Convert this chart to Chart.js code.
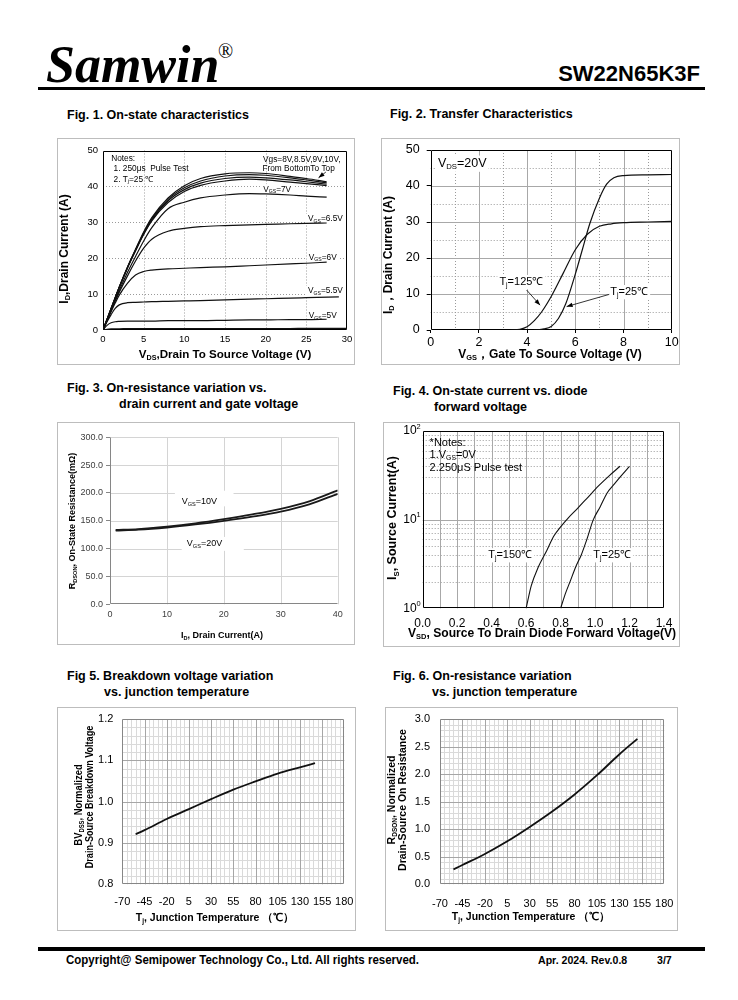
<!DOCTYPE html>
<html>
<head>
<meta charset="utf-8">
<script src="https://cdn.jsdelivr.net/npm/chart.js@4.4.1/dist/chart.umd.min.js"></script>
<style>
  body { margin: 0; background: #fff; }
  #page { position: relative; width: 738px; height: 1000px; overflow: hidden; font-family: "Liberation Sans", Arial, sans-serif; color: #000; }
  .t { position: absolute; white-space: nowrap; line-height: 1; }
  .ft { font-weight: bold; font-size: 12.5px; }
  .foot { font-weight: bold; transform: scaleX(0.92); transform-origin: left center; }
  .frame { position: absolute; border: 1px solid #bdbdbd; box-sizing: border-box; }
  .rule { position: absolute; background: #000; }
  canvas { position: absolute; }
</style>
</head>
<body>
<div id="page">
  <div class="t" style="left:46px;top:35px;font:italic bold 52px 'Liberation Serif',serif;">Samwin</div>
  <div class="t" style="left:218px;top:40px;font:20px 'Liberation Serif',serif;">®</div>
  <div class="t" style="right:38px;top:63px;font-weight:bold;font-size:22px;">SW22N65K3F</div>
  <div class="rule" style="left:38px;top:87px;width:667px;height:3px;"></div>

  <div class="t ft" style="left:67px;top:109px;">Fig. 1. On-state characteristics</div>
  <div class="t ft" style="left:390px;top:108px;">Fig. 2. Transfer Characteristics</div>
  <div class="t ft" style="left:67px;top:382px;">Fig. 3. On-resistance variation vs.</div>
  <div class="t ft" style="left:119px;top:398px;">drain current and gate voltage</div>
  <div class="t ft" style="left:393px;top:385px;">Fig. 4. On-state current vs. diode</div>
  <div class="t ft" style="left:434px;top:401px;">forward voltage</div>
  <div class="t ft" style="left:67px;top:670px;">Fig 5. Breakdown voltage variation</div>
  <div class="t ft" style="left:104px;top:686px;">vs. junction temperature</div>
  <div class="t ft" style="left:393px;top:670px;">Fig. 6. On-resistance variation</div>
  <div class="t ft" style="left:432px;top:686px;">vs. junction temperature</div>

  <div class="rule" style="left:38px;top:947px;width:667px;height:4px;"></div>
  <div class="t foot" style="left:66px;top:954px;font-size:12.5px;">Copyright@ Semipower Technology Co., Ltd. All rights reserved.</div>
  <div class="t foot" style="left:538px;top:955px;font-size:11.5px;">Apr. 2024. Rev.0.8</div>
  <div class="t foot" style="left:657px;top:955px;font-size:11.5px;">3/7</div>
</div>
<script>
// Fig. 1 - on-state characteristics
const fig1Vds = [0, 0.5, 1, 1.5, 2, 3, 4, 5, 6, 8, 10, 12, 15, 18, 20, 23, 25, 27.5];
const fig1VdsLong = [0, 0.5, 1, 1.5, 2, 3, 4, 5, 6, 8, 10, 12, 15, 18, 20, 23, 25, 29];
const fig1VdsFull = [0, 0.5, 1, 1.5, 2, 3, 4, 5, 6, 8, 10, 12, 15, 18, 20, 23, 25, 30];
const fig1Id10V = [0, 3, 6, 9, 12, 17.5, 22.5, 27.3, 31.3, 36.8, 40.2, 42.2, 43.5, 43.8, 43.6, 42.8, 42.2, 41.3];
const fig1Id9V = [0, 3, 6, 9, 12, 17.4, 22.3, 27.0, 31.0, 36.4, 39.6, 41.5, 42.9, 43.3, 43.1, 42.4, 41.8, 41.0];
const fig1Id85V = [0, 3, 6, 9, 11.9, 17.3, 22.2, 26.8, 30.7, 36.0, 39.1, 40.9, 42.2, 42.6, 42.4, 41.8, 41.3, 40.6];
const fig1Id8V = [0, 3, 6, 8.9, 11.8, 17.2, 22.0, 26.6, 30.4, 35.5, 38.6, 40.3, 41.5, 42.0, 41.8, 41.2, 40.8, 40.2];
const fig1Id7V = [0, 2.8, 5.6, 8.3, 11, 16, 20.5, 24.8, 28.5, 33.8, 35.6, 36.8, 37.6, 38.0, 37.9, 37.6, 37.3, 37.0];
const fig1Id65V = [0, 2.7, 5.4, 8, 10.5, 15, 19.2, 22.8, 25.3, 27.5, 28.3, 28.8, 29.1, 29.3, 29.4, 29.6, 29.7, 29.8];
const fig1Id6V = [0, 2.6, 5.1, 7.5, 9.7, 13.0, 15.3, 16.3, 16.7, 17.0, 17.2, 17.4, 17.6, 17.9, 18.1, 18.4, 18.6, 18.9];
const fig1Id55V = [0, 2.3, 4.3, 6.0, 7.0, 7.6, 7.7, 7.8, 7.9, 8.0, 8.1, 8.2, 8.4, 8.6, 8.7, 8.9, 9.0, 9.2];
const fig1Id5V = [0, 1.3, 2.0, 2.3, 2.4, 2.5, 2.5, 2.5, 2.5, 2.6, 2.6, 2.6, 2.7, 2.8, 2.8, 2.9, 2.9, 3.0];
const fig1Id45V = [0, 0.2, 0.3, 0.35, 0.35, 0.4, 0.4, 0.4, 0.4, 0.4, 0.4, 0.4, 0.4, 0.4, 0.4, 0.4, 0.45, 0.45];
const fig1XTicks = [0, 5, 10, 15, 20, 25, 30];
const fig1YTicks = [0, 10, 20, 30, 40, 50];

// Fig. 2 - transfer characteristics
const fig2Vgs125 = [3.3, 3.7, 4.0, 4.3, 4.6, 5.0, 5.5, 6.0, 6.5, 7.0, 7.5, 8.0, 9.0, 10.0];
const fig2Id125 = [0, 0.2, 0.9, 2.6, 5.0, 9.3, 15.8, 22.3, 26.6, 28.8, 29.5, 29.8, 30.0, 30.2];
const fig2Vgs25 = [4.3, 4.7, 5.0, 5.3, 5.6, 6.0, 6.3, 6.6, 7.0, 7.3, 7.6, 8.0, 9.0, 10.0];
const fig2Id25 = [0, 0.3, 1.0, 3.2, 7.2, 15.5, 22.5, 29.5, 36.6, 40.5, 42.3, 42.9, 43.1, 43.2];
const fig2XTicks = [0, 2, 4, 6, 8, 10];
const fig2YTicks = [0, 10, 20, 30, 40, 50];

// Fig. 3 - on-resistance vs drain current
const fig3Id = [1, 5, 10, 15, 20, 25, 30, 35, 40];
const fig3R10V = [133.5, 135, 139.5, 145.5, 153, 161.5, 171.5, 185, 204.5];
const fig3R20V = [132.5, 134, 138, 143.5, 150, 157.5, 166.5, 179.5, 198.5];
const fig3XTicks = [0, 10, 20, 30, 40];
const fig3YTicks = [0, 50, 100, 150, 200, 250, 300];

// Fig. 4 - diode forward voltage
const fig4Vsd150 = [0.60, 0.63, 0.67, 0.72, 0.76, 0.80, 0.845, 0.90, 0.96, 1.02, 1.08, 1.145];
const fig4Is150 = [1.0, 1.8, 2.9, 4.5, 6.5, 8.3, 10.5, 13.5, 18, 24, 31, 40];
const fig4Vsd25 = [0.80, 0.83, 0.855, 0.89, 0.92, 0.95, 0.99, 1.03, 1.07, 1.11, 1.15, 1.20];
const fig4Is25 = [1.0, 1.5, 2.0, 3.0, 4.0, 5.8, 10, 14, 20, 25, 31, 40];
const fig4XTicks = [0, 0.2, 0.4, 0.6, 0.8, 1.0, 1.2, 1.4];
const fig4YTicks = [1, 10, 100];
const fig4YExp = ['0', '1', '2'];

// Fig. 5 / Fig. 6 - temperature dependence
const fig5Tj = [-55, -45, -20, 5, 30, 55, 80, 105, 130, 147];
const fig5Bv = [0.921, 0.931, 0.958, 0.982, 1.006, 1.029, 1.049, 1.068, 1.083, 1.093];
const fig6Tj = [-55, -45, -20, 5, 30, 55, 80, 105, 130, 150];
const fig6Rds = [0.27, 0.35, 0.55, 0.78, 1.04, 1.32, 1.63, 1.98, 2.36, 2.64];
const tempTicks = [-70, -45, -20, 5, 30, 55, 80, 105, 130, 155, 180];
const fig5YTicks = [0.8, 0.9, 1.0, 1.1, 1.2];
const fig6YTicks = [0, 0.5, 1.0, 1.5, 2.0, 2.5, 3.0];

const FONT = '"Liberation Sans", Arial, sans-serif';
Chart.defaults.font.family = FONT;
const page = document.getElementById('page');

// 'V','_GS','=7V' -> runs, _ = subscript, ^ = superscript
const R = (...p) => p.map(s => s[0] === '_' ? [s.slice(1), 1] : s[0] === '^' ? [s.slice(1), 2] : [s, 0]);
const range = (a, b, st) => { const out = []; for (let v = a; v <= b + 1e-9; v += st) out.push(+v.toFixed(4)); return out; };
const without = (arr, skip) => arr.filter(v => !skip.some(s => Math.abs(s - v) < 1e-6));

function drawRuns(ctx, runs, x, y, o) {
  const size = o.size || 10, weight = o.bold ? 'bold ' : '';
  const f = k => `${weight}${k ? size * 0.62 : size}px ${FONT}`;
  let w = 0;
  runs.forEach(([t, k]) => { ctx.font = f(k); w += ctx.measureText(t).width; });
  ctx.save();
  ctx.translate(x, y);
  if (o.rot) ctx.rotate(-Math.PI / 2);
  ctx.scale(o.sx || 1, 1);
  let cx = o.align === 'left' ? 0 : o.align === 'right' ? -w : -w / 2;
  ctx.textBaseline = 'middle';
  ctx.textAlign = 'left';
  if (o.bg) {
    ctx.fillStyle = '#fff';
    ctx.fillRect(cx - 2, -size * 0.62, w + 4, size * 1.3);
  }
  ctx.fillStyle = o.color || '#000';
  runs.forEach(([t, k]) => {
    ctx.font = f(k);
    const dy = k === 1 ? size * 0.28 : k === 2 ? -size * 0.36 : 0;
    ctx.fillText(t, cx, dy);
    cx += ctx.measureText(t).width;
  });
  ctx.restore();
}

const sheetPlugin = {
  id: 'sheet',
  beforeDatasetsDraw(chart, args, o) {
    const { ctx, chartArea: a, scales: { x: X, y: Y } } = chart;
    ctx.save();
    (o.grids || []).forEach(g => {
      ctx.strokeStyle = g.color;
      ctx.lineWidth = g.width || 1;
      ctx.setLineDash(g.dash || []);
      g.values.forEach(v => {
        ctx.beginPath();
        if (g.axis === 'x') {
          const p = Math.round(X.getPixelForValue(v)) + 0.5;
          ctx.moveTo(p, a.top); ctx.lineTo(p, a.bottom);
        } else {
          const p = Math.round(Y.getPixelForValue(v)) + 0.5;
          ctx.moveTo(a.left, p); ctx.lineTo(a.right, p);
        }
        ctx.stroke();
      });
    });
    ctx.setLineDash([]);
    if (o.box) {
      const b = o.box, l = Math.round(a.left) + 0.5, r = Math.round(a.right) - 0.5;
      const t = Math.round(a.top) + 0.5, btm = Math.round(a.bottom) - 0.5;
      ctx.strokeStyle = b.color; ctx.lineWidth = b.width || 1;
      ctx.beginPath();
      if (b.sides.includes('l')) { ctx.moveTo(l, t); ctx.lineTo(l, btm); }
      if (b.sides.includes('b')) { ctx.moveTo(l, btm); ctx.lineTo(r, btm); }
      if (b.sides.includes('r')) { ctx.moveTo(r, t); ctx.lineTo(r, btm); }
      if (b.sides.includes('t')) { ctx.moveTo(l, t); ctx.lineTo(r, t); }
      ctx.stroke();
    }
    (o.rects || []).forEach(q => {
      const x1 = X.getPixelForValue(q[0]), y1 = Y.getPixelForValue(q[1]);
      const x2 = X.getPixelForValue(q[2]), y2 = Y.getPixelForValue(q[3]);
      ctx.fillStyle = '#fff';
      ctx.fillRect(Math.min(x1, x2), Math.min(y1, y2), Math.abs(x2 - x1), Math.abs(y2 - y1));
    });
    (o.texts || []).forEach(t => {
      drawRuns(ctx, t.r, X.getPixelForValue(t.x), Y.getPixelForValue(t.y),
        { size: t.size || o.textSize, align: t.align || 'left', bg: t.bg, color: t.color });
    });
    (o.yLabels || []).forEach(t => {
      drawRuns(ctx, t.r, a.left - t.pad, Y.getPixelForValue(t.v), { size: t.size, align: 'right' });
    });
    ctx.restore();
  },
  afterDraw(chart, args, o) {
    const { ctx, scales: { x: X, y: Y } } = chart;
    const [ox, oy] = o.offset;
    ctx.save();
    (o.arrows || []).forEach(ar => {
      const x1 = X.getPixelForValue(ar[0]), y1 = Y.getPixelForValue(ar[1]);
      const x2 = X.getPixelForValue(ar[2]), y2 = Y.getPixelForValue(ar[3]);
      const ang = Math.atan2(y2 - y1, x2 - x1);
      ctx.strokeStyle = '#000'; ctx.fillStyle = '#000'; ctx.lineWidth = 0.8;
      ctx.beginPath(); ctx.moveTo(x1, y1); ctx.lineTo(x2, y2); ctx.stroke();
      ctx.beginPath();
      ctx.moveTo(x2, y2);
      ctx.lineTo(x2 - 6 * Math.cos(ang) + 2.2 * Math.sin(ang), y2 - 6 * Math.sin(ang) - 2.2 * Math.cos(ang));
      ctx.lineTo(x2 - 6 * Math.cos(ang) - 2.2 * Math.sin(ang), y2 - 6 * Math.sin(ang) + 2.2 * Math.cos(ang));
      ctx.closePath(); ctx.fill();
    });
    (o.titles || []).forEach(t => {
      drawRuns(ctx, t.r, t.x - ox, t.y - oy, { size: t.size, bold: true, rot: t.rot, sx: t.sx });
    });
    ctx.restore();
  }
};

const curve = (xs, ys, w, c) => ({
  data: xs.map((x, i) => ({ x, y: ys[i] })),
  showLine: true, borderColor: c || '#111', borderWidth: w || 1.2,
  pointRadius: 0, cubicInterpolationMode: 'monotone', fill: false
});

function axis(type, vals, t) {
  return {
    type, min: vals[0], max: vals[vals.length - 1],
    afterBuildTicks: s => { s.ticks = vals.map(v => ({ value: v })); },
    ticks: {
      display: t.show !== false, autoSkip: false, maxRotation: 0, minRotation: 0,
      font: { size: t.size }, color: t.color || '#000', padding: t.pad,
      callback: t.fmt || (v => v)
    },
    grid: { drawOnChartArea: false, drawTicks: !!t.tick, tickLength: t.tick || 0, tickColor: t.tickColor || '#000' },
    border: { display: false }
  };
}

function makeChart(frame, plot, datasets, xs, ys, sheet) {
  const [fl, ft, fw, fh] = frame;
  const [pl, pt, pr, pb] = plot;
  const fr = document.createElement('div');
  fr.className = 'frame';
  Object.assign(fr.style, { left: fl + 'px', top: ft + 'px', width: fw + 'px', height: fh + 'px' });
  page.appendChild(fr);
  const cv = document.createElement('canvas');
  cv.width = fw; cv.height = fh;
  Object.assign(cv.style, { left: fl + 'px', top: ft + 'px' });
  page.appendChild(cv);
  const xH = ft + fh - pb, yW = pl - fl;
  xs.afterFit = s => { s.height = xH; s.paddingLeft = 0; s.paddingRight = 0; };
  ys.afterFit = s => { s.width = yW; s.paddingTop = 0; s.paddingBottom = 0; };
  sheet.offset = [fl, ft];
  return new Chart(cv, {
    type: 'scatter',
    data: { datasets },
    options: {
      responsive: false, animation: false, events: [],
      layout: { padding: { left: 0, top: pt - ft, right: fl + fw - pr, bottom: 0 } },
      scales: { x: xs, y: ys },
      plugins: { legend: { display: false }, tooltip: { enabled: false }, sheet }
    },
    plugins: [sheetPlugin]
  });
}

// Fig. 1
makeChart([57, 138, 298, 227], [103, 150.5, 347, 330], [
  curve(fig1Vds, fig1Id10V), curve(fig1Vds, fig1Id9V), curve(fig1Vds, fig1Id85V), curve(fig1Vds, fig1Id8V),
  curve(fig1Vds, fig1Id7V), curve(fig1Vds, fig1Id65V), curve(fig1Vds, fig1Id6V),
  curve(fig1VdsLong, fig1Id55V), curve(fig1Vds, fig1Id5V), curve(fig1VdsFull, fig1Id45V)
],
  axis('linear', fig1XTicks, { size: 9.5, pad: 4 }),
  axis('linear', fig1YTicks, { size: 9.5, pad: 5 }),
  {
    grids: [
      { axis: 'x', values: fig1XTicks.slice(1, -1), color: '#9a9a9a', dash: [1, 2] },
      { axis: 'y', values: fig1YTicks.slice(1, -1), color: '#9a9a9a', dash: [1, 2] }
    ],
    box: { color: '#000', sides: 'lrtb' },
    textSize: 8.3,
    texts: [
      { x: 1.0, y: 47.7, r: R('Notes:') },
      { x: 1.3, y: 44.9, r: R('1. 250μs  Pulse Test') },
      { x: 1.3, y: 42.0, r: R('2. T', '_j', '=25 ℃') },
      { x: 29.2, y: 47.4, r: R('Vgs=8V,8.5V,9V,10V,'), align: 'right' },
      { x: 28.5, y: 45.0, r: R('From BottomTo Top'), align: 'right' },
      { x: 19.7, y: 39.2, r: R('V', '_GS', '=7V'), bg: true },
      { x: 25.2, y: 30.9, r: R('V', '_GS', '=6.5V'), bg: true },
      { x: 25.3, y: 20.2, r: R('V', '_GS', '=6V'), bg: true },
      { x: 25.2, y: 10.9, r: R('V', '_GS', '=5.5V'), bg: true },
      { x: 25.3, y: 3.9, r: R('V', '_GS', '=5V'), bg: true }
    ],
    arrows: [[27.4, 44.0, 26.5, 42.4]],
    titles: [
      { r: R('V', '_DS', ',Drain To Source Voltage (V)'), x: 225, y: 355, size: 11.6 },
      { r: R('I', '_D', ',Drain Current (A)'), x: 65, y: 249, size: 12, rot: true }
    ]
  });

// Fig. 2
makeChart([381, 138, 299, 227], [430.7, 150, 671.7, 330], [
  curve(fig2Vgs125, fig2Id125), curve(fig2Vgs25, fig2Id25)
],
  axis('linear', fig2XTicks, { size: 12.5, pad: 2, tick: 3 }),
  axis('linear', fig2YTicks, { size: 12.5, pad: 7, tick: 4 }),
  {
    grids: [
      { axis: 'x', values: [1, 3, 5, 7, 9], color: '#9a9a9a', dash: [1, 2] },
      { axis: 'y', values: [5, 15, 25, 35, 45], color: '#9a9a9a', dash: [1, 2] },
      { axis: 'x', values: fig2XTicks.slice(1, -1), color: '#a8a8a8' },
      { axis: 'y', values: fig2YTicks.slice(1, -1), color: '#a8a8a8' }
    ],
    box: { color: '#000', sides: 'lrtb' },
    textSize: 11,
    texts: [
      { x: 0.3, y: 46.3, r: R('V', '_DS', '=20V'), size: 12.5, bg: true },
      { x: 2.85, y: 13.4, r: R('T', '_j', '=125℃'), bg: true },
      { x: 7.45, y: 10.6, r: R('T', '_j', '=25℃'), bg: true }
    ],
    arrows: [[3.98, 11.1, 4.54, 6.9], [7.41, 9.9, 5.64, 6.5]],
    titles: [
      { r: R('V', '_GS', '，Gate To Source Voltage (V)'), x: 550, y: 355, size: 12 },
      { r: R('I', '_D', '，Drain Current (A)'), x: 389, y: 255, size: 12, rot: true }
    ]
  });

// Fig. 3
makeChart([57, 422, 298, 223], [110, 437.3, 337.7, 604.3], [
  curve(fig3Id, fig3R10V, 1.8, '#1a1a1a'), curve(fig3Id, fig3R20V, 1.8, '#1a1a1a')
],
  axis('linear', fig3XTicks, { size: 9, pad: 5, color: '#404040' }),
  axis('linear', fig3YTicks, { size: 9, pad: 3, tick: 4, tickColor: '#868686', color: '#404040', fmt: v => v.toFixed(1) }),
  {
    grids: [
      { axis: 'x', values: fig3XTicks.slice(1), color: '#d4d4d4' },
      { axis: 'y', values: fig3YTicks.slice(1), color: '#d4d4d4' }
    ],
    box: { color: '#868686', sides: 'lb' },
    rects: [[11.4, 176, 21.7, 204], [12.6, 96, 23.5, 121]],
    textSize: 9,
    texts: [
      { x: 12.6, y: 184.3, r: R('V', '_GS', '=10V') },
      { x: 13.5, y: 108.4, r: R('V', '_GS', '=20V') }
    ],
    titles: [
      { r: R('I', '_D', ', Drain Current(A)'), x: 222, y: 636, size: 9 },
      { r: R('R', '_DSON', ', On-State Resistance(mΩ)'), x: 73, y: 521, size: 9, rot: true }
    ]
  });

// Fig. 4
makeChart([383, 422, 297, 225], [422.7, 431, 664, 608.3], [
  curve(fig4Vsd150, fig4Is150, 1.1), curve(fig4Vsd25, fig4Is25, 1.1)
],
  axis('linear', fig4XTicks, { size: 12, pad: 8, fmt: v => v.toFixed(1) }),
  axis('logarithmic', fig4YTicks, { size: 12, pad: 2, show: false }),
  {
    grids: [
      { axis: 'y', values: [2, 3, 4, 5, 6, 7, 8, 9, 20, 30, 40, 50, 60, 70, 80, 90], color: '#9a9a9a', dash: [1, 2] },
      { axis: 'x', values: range(0.1, 1.3, 0.1), color: '#a8a8a8' },
      { axis: 'y', values: [10], color: '#a8a8a8' }
    ],
    box: { color: '#000', sides: 'lrtb' },
    textSize: 11,
    texts: [
      { x: 0.04, y: 73.8, r: R('*Notes:') },
      { x: 0.04, y: 53.6, r: R('1.V', '_GS', '=0V') },
      { x: 0.04, y: 37.9, r: R('2.250μS Pulse test') },
      { x: 0.38, y: 4.0, r: R('T', '_j', '=150℃'), bg: true },
      { x: 0.99, y: 4.0, r: R('T', '_j', '=25℃'), bg: true }
    ],
    yLabels: fig4YTicks.map((v, i) => ({ v, r: R('10', '^' + fig4YExp[i]), size: 12, pad: 2 })),
    titles: [
      { r: R('V', '_SD', ', Source To Drain Diode Forward Voltage(V)'), x: 542, y: 634, size: 12.1 },
      { r: R('I', '_S', ', Source Current(A)'), x: 393, y: 518, size: 12.5, rot: true }
    ]
  });

// Fig. 5
makeChart([57, 707, 299, 224], [122.3, 719, 344.3, 884.3], [
  curve(fig5Tj, fig5Bv, 1.8)
],
  axis('linear', tempTicks, { size: 11, pad: 11 }),
  axis('linear', fig5YTicks, { size: 11, pad: 9, fmt: v => v.toFixed(1) }),
  {
    grids: [
      { axis: 'x', values: without(range(-65, 175, 5), tempTicks), color: '#dadada' },
      { axis: 'y', values: without(range(0.82, 1.18, 0.02), fig5YTicks), color: '#dadada' },
      { axis: 'x', values: tempTicks.slice(1, -1), color: '#a6a6a6' },
      { axis: 'y', values: fig5YTicks.slice(1, -1), color: '#a6a6a6' }
    ],
    box: { color: '#868686', sides: 'lrtb' },
    titles: [
      { r: R('T', '_j', ', Junction Temperature （℃）'), x: 215, y: 918, size: 10.5 },
      { r: R('BV', '_DSS', ', Normalized'), x: 79, y: 805, size: 10.5, rot: true, sx: 0.9 },
      { r: R('Drain-Source Breakdown Voltage'), x: 90, y: 797, size: 10.5, rot: true, sx: 0.86 }
    ]
  });

// Fig. 6
makeChart([385, 707, 293, 224], [440, 719, 664.3, 884.3], [
  curve(fig6Tj, fig6Rds, 1.8)
],
  axis('linear', tempTicks, { size: 11, pad: 13 }),
  axis('linear', fig6YTicks, { size: 11, pad: 10, fmt: v => v.toFixed(1) }),
  {
    grids: [
      { axis: 'x', values: without(range(-65, 175, 5), tempTicks), color: '#dadada' },
      { axis: 'y', values: without(range(0.1, 2.9, 0.1), fig6YTicks), color: '#dadada' },
      { axis: 'x', values: tempTicks.slice(1, -1), color: '#a6a6a6' },
      { axis: 'y', values: fig6YTicks.slice(1, -1), color: '#a6a6a6' }
    ],
    box: { color: '#868686', sides: 'lrtb' },
    titles: [
      { r: R('T', '_j', ', Junction Temperature （℃）'), x: 531, y: 917, size: 10.5 },
      { r: R('R', '_DSON', ', Normalized'), x: 392, y: 800, size: 10.5, rot: true },
      { r: R('Drain-Source On Resistance'), x: 403, y: 800, size: 10.5, rot: true }
    ]
  });
</script>
</body>
</html>
